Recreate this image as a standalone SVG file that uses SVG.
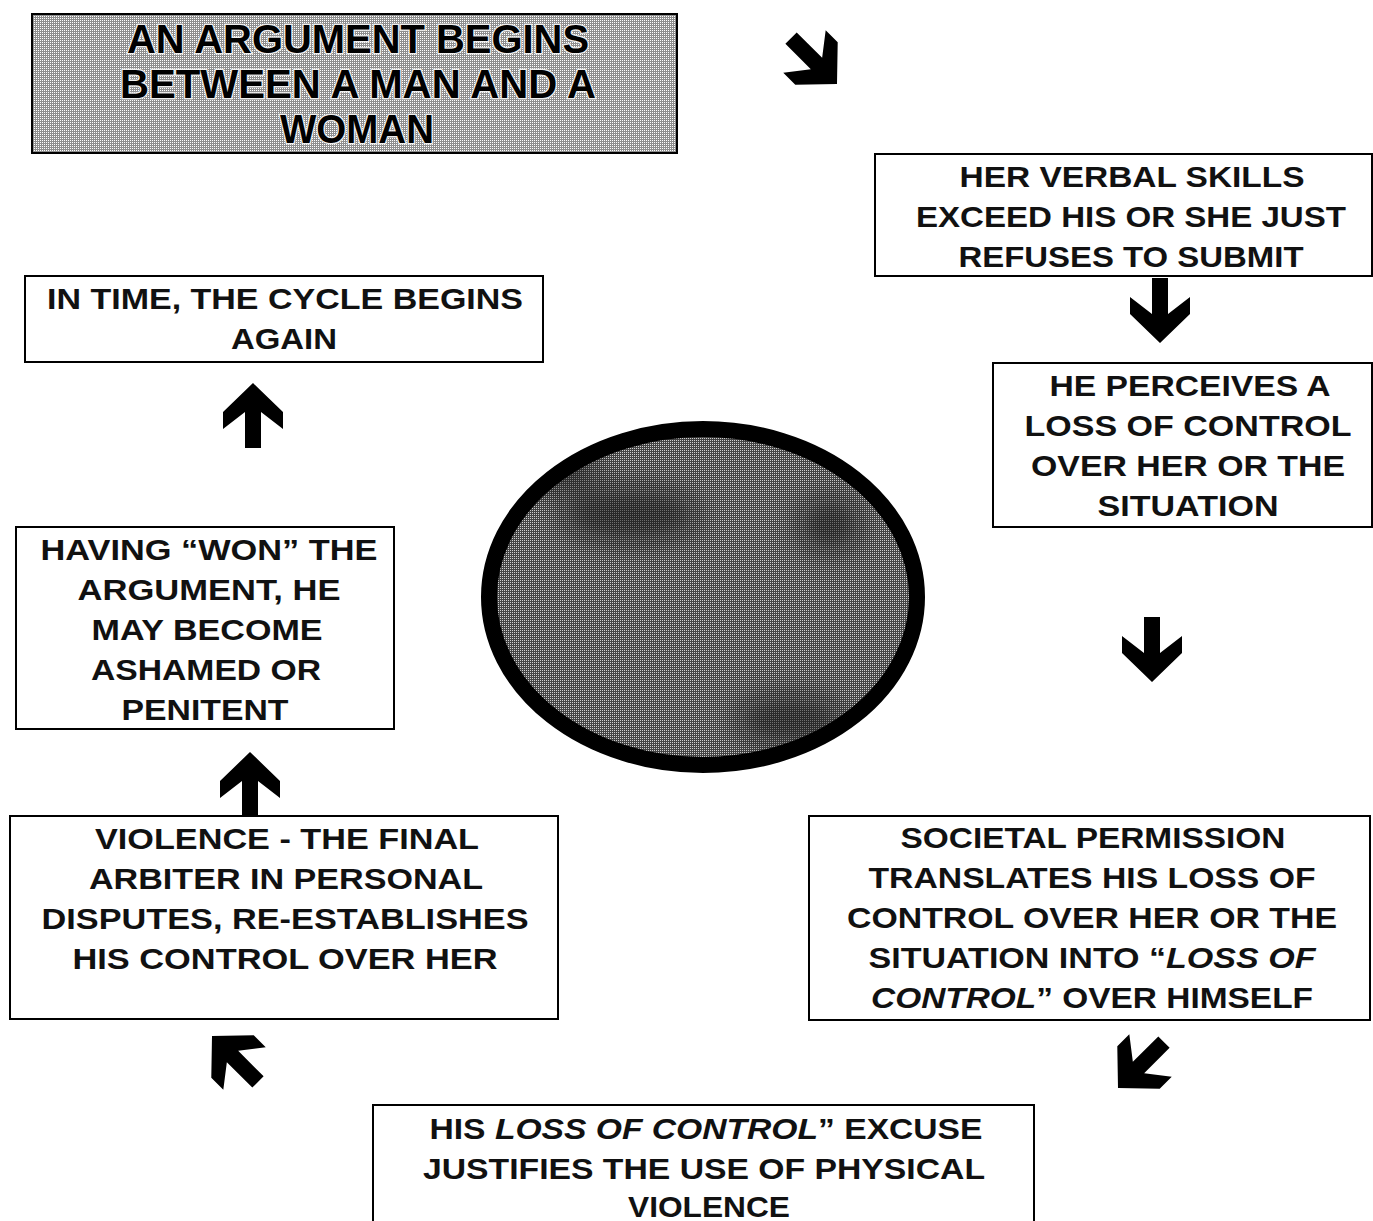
<svg xmlns="http://www.w3.org/2000/svg" width="1373" height="1221" viewBox="0 0 1373 1221">
<style>
.box{fill:#fff;stroke:#000;stroke-width:2}
.t{font-family:"Liberation Sans",Arial,sans-serif;font-weight:bold;font-size:30px;fill:#111;text-anchor:middle}
.title{font-family:"Liberation Sans",Arial,sans-serif;font-weight:bold;font-size:40px;fill:#000;text-anchor:middle;stroke:#eee;stroke-width:2.5;paint-order:stroke}
.arr{fill:#000}
</style>
<defs>
<pattern id="ht1" patternUnits="userSpaceOnUse" width="2" height="2">
<rect width="2" height="2" fill="#8e8e8e"/><rect width="1" height="1" fill="#fff"/>
</pattern>
<pattern id="ht2" patternUnits="userSpaceOnUse" width="2" height="2">
<rect width="2" height="2" fill="#454545"/><rect width="1" height="1" fill="#d0d0d0"/>
</pattern>
<filter id="blur" x="-50%" y="-50%" width="200%" height="200%"><feGaussianBlur stdDeviation="14"/></filter>
<clipPath id="ellclip"><ellipse cx="703" cy="597" rx="214" ry="168"/></clipPath>
<path id="arrow" d="M-8,-65 L8,-65 L8,-29 L30,-46 L30,-29 L0,0 L-30,-29 L-30,-46 L-8,-29 Z"/>
</defs>
<rect width="1373" height="1221" fill="#fff"/>

<g id="center-ellipse">
<ellipse cx="703" cy="597" rx="214" ry="168" fill="url(#ht2)"/>
<g clip-path="url(#ellclip)" filter="url(#blur)" fill="#111" opacity="0.55">
<ellipse cx="630" cy="515" rx="70" ry="28"/>
<ellipse cx="830" cy="525" rx="32" ry="28"/>
<ellipse cx="790" cy="720" rx="55" ry="25"/>
<ellipse cx="560" cy="470" rx="40" ry="20"/>
</g>
<ellipse cx="703" cy="597" rx="214" ry="168" fill="none" stroke="#000" stroke-width="16"/>
</g>

<g id="node-start">
<rect x="32" y="14" width="645" height="139" fill="url(#ht1)" stroke="#000" stroke-width="2"/>
<text class="title" x="358" y="53" textLength="462" lengthAdjust="spacingAndGlyphs">AN ARGUMENT BEGINS</text>
<text class="title" x="358" y="98" textLength="476" lengthAdjust="spacingAndGlyphs">BETWEEN A MAN AND A</text>
<text class="title" x="357" y="143" textLength="154" lengthAdjust="spacingAndGlyphs">WOMAN</text>
</g>

<g id="node-verbal">
<rect class="box" x="875" y="154" width="497" height="122"/>
<text class="t" x="1132" y="187" textLength="345" lengthAdjust="spacingAndGlyphs">HER VERBAL SKILLS</text>
<text class="t" x="1131" y="227" textLength="430" lengthAdjust="spacingAndGlyphs">EXCEED HIS OR SHE JUST</text>
<text class="t" x="1131" y="267" textLength="345" lengthAdjust="spacingAndGlyphs">REFUSES TO SUBMIT</text>
</g>

<g id="node-perceives">
<rect class="box" x="993" y="363" width="379" height="164"/>
<text class="t" x="1190" y="396" textLength="281" lengthAdjust="spacingAndGlyphs">HE PERCEIVES A</text>
<text class="t" x="1188" y="436" textLength="327" lengthAdjust="spacingAndGlyphs">LOSS OF CONTROL</text>
<text class="t" x="1188" y="476" textLength="314" lengthAdjust="spacingAndGlyphs">OVER HER OR THE</text>
<text class="t" x="1188" y="516" textLength="181" lengthAdjust="spacingAndGlyphs">SITUATION</text>
</g>

<g id="node-societal">
<rect class="box" x="809" y="816" width="561" height="204"/>
<text class="t" x="1093" y="848" textLength="385" lengthAdjust="spacingAndGlyphs">SOCIETAL PERMISSION</text>
<text class="t" x="1092" y="888" textLength="447" lengthAdjust="spacingAndGlyphs">TRANSLATES HIS LOSS OF</text>
<text class="t" x="1092" y="928" textLength="490" lengthAdjust="spacingAndGlyphs">CONTROL OVER HER OR THE</text>
<text class="t" x="1092" y="968" textLength="447" lengthAdjust="spacingAndGlyphs">SITUATION INTO “<tspan font-style="italic">LOSS OF</tspan></text>
<text class="t" x="1092" y="1008" textLength="442" lengthAdjust="spacingAndGlyphs"><tspan font-style="italic">CONTROL</tspan>” OVER HIMSELF</text>
</g>

<g id="node-excuse">
<rect class="box" x="373" y="1105" width="661" height="125"/>
<text class="t" x="706" y="1139" textLength="553" lengthAdjust="spacingAndGlyphs">HIS <tspan font-style="italic">LOSS OF CONTROL</tspan>” EXCUSE</text>
<text class="t" x="704" y="1179" textLength="562" lengthAdjust="spacingAndGlyphs">JUSTIFIES THE USE OF PHYSICAL</text>
<text class="t" x="709" y="1217" textLength="162" lengthAdjust="spacingAndGlyphs">VIOLENCE</text>
</g>

<g id="node-violence">
<rect class="box" x="10" y="816" width="548" height="203"/>
<text class="t" x="287" y="849" textLength="384" lengthAdjust="spacingAndGlyphs">VIOLENCE - THE FINAL</text>
<text class="t" x="286" y="889" textLength="394" lengthAdjust="spacingAndGlyphs">ARBITER IN PERSONAL</text>
<text class="t" x="285" y="929" textLength="487" lengthAdjust="spacingAndGlyphs">DISPUTES, RE-ESTABLISHES</text>
<text class="t" x="285" y="969" textLength="425" lengthAdjust="spacingAndGlyphs">HIS CONTROL OVER HER</text>
</g>

<g id="node-won">
<rect class="box" x="16" y="527" width="378" height="202"/>
<text class="t" x="209" y="560" textLength="337" lengthAdjust="spacingAndGlyphs">HAVING “WON” THE</text>
<text class="t" x="209" y="600" textLength="263" lengthAdjust="spacingAndGlyphs">ARGUMENT, HE</text>
<text class="t" x="207" y="640" textLength="231" lengthAdjust="spacingAndGlyphs">MAY BECOME</text>
<text class="t" x="206" y="680" textLength="230" lengthAdjust="spacingAndGlyphs">ASHAMED OR</text>
<text class="t" x="205" y="720" textLength="167" lengthAdjust="spacingAndGlyphs">PENITENT</text>
</g>

<g id="node-again">
<rect class="box" x="25" y="276" width="518" height="86"/>
<text class="t" x="285" y="309" textLength="476" lengthAdjust="spacingAndGlyphs">IN TIME, THE CYCLE BEGINS</text>
<text class="t" x="284" y="349" textLength="106" lengthAdjust="spacingAndGlyphs">AGAIN</text>
</g>

<g id="connectors" class="arr">
<use href="#arrow" transform="translate(837,84) rotate(-45)"/>
<use href="#arrow" transform="translate(1160,343)"/>
<use href="#arrow" transform="translate(1152,682)"/>
<use href="#arrow" transform="translate(1118,1088) rotate(45)"/>
<use href="#arrow" transform="translate(212,1036) rotate(135)"/>
<use href="#arrow" transform="translate(250,752) rotate(180)"/>
<use href="#arrow" transform="translate(253,383) rotate(180)"/>
</g>
</svg>
